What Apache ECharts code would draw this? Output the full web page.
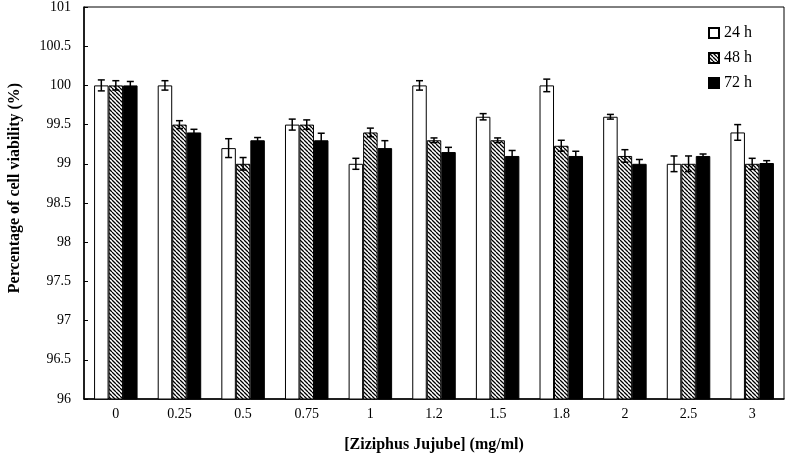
<!DOCTYPE html>
<html>
<head>
<meta charset="utf-8">
<script src="https://cdn.jsdelivr.net/npm/echarts@6/dist/echarts.min.js"></script>
<style>
  html, body { margin: 0; background: #fff; }
  #chart { width: 786px; height: 458px; }
</style>
</head>
<body>
<div id="chart"></div>
<script>
var categories = ['0', '0.25', '0.5', '0.75', '1', '1.2', '1.5', '1.8', '2', '2.5', '3']
var h24 = [100, 100, 99.2, 99.5, 99.0, 100, 99.6, 100, 99.6, 99.0, 99.4]
var h48 = [100, 99.5, 99.0, 99.5, 99.4, 99.3, 99.3, 99.23, 99.1, 99.0, 99.0]
var h72 = [100, 99.4, 99.3, 99.3, 99.2, 99.15, 99.1, 99.1, 99.0, 99.1, 99.01]
var err24 = [0.07, 0.06, 0.12, 0.07, 0.07, 0.06, 0.04, 0.08, 0.03, 0.1, 0.1]
var err48 = [0.06, 0.05, 0.08, 0.06, 0.055, 0.03, 0.03, 0.07, 0.08, 0.1, 0.07]
var err72 = [0.05, 0.04, 0.035, 0.09, 0.095, 0.06, 0.07, 0.06, 0.055, 0.025, 0.03]
var seriesNames = ['24 h', '48 h', '72 h']

var font = 'Liberation Serif'
var barW = 14.5

// diagonal hatch for the 48 h bars
function hatch () {
  var s = 4
  var c = document.createElement('canvas')
  c.width = s
  c.height = s
  var ctx = c.getContext('2d')
  ctx.fillStyle = '#fff'
  ctx.fillRect(0, 0, s, s)
  ctx.strokeStyle = '#000'
  ctx.lineWidth = 1.3
  ctx.beginPath()
  for (var k = -1; k <= 1; k++) {
    ctx.moveTo(k * s, 0)
    ctx.lineTo(k * s + s, s)
  }
  ctx.stroke()
  return { image: c, repeat: 'repeat' }
}

function errData (vals, errs) {
  return vals.map(function (v, i) { return [i, v, errs[i]] })
}

function errRender (offset) {
  return function (params, api) {
    var i = api.value(0)
    var v = api.value(1)
    var e = api.value(2)
    var hi = api.coord([i, v + e])
    var lo = api.coord([i, v - e])
    var x = hi[0] + offset
    var cap = 3.5
    var st = { stroke: '#000', lineWidth: 1.5 }
    return {
      type: 'group',
      children: [
        { type: 'line', shape: { x1: x, y1: hi[1], x2: x, y2: lo[1] }, style: st },
        { type: 'line', shape: { x1: x - cap, y1: hi[1], x2: x + cap, y2: hi[1] }, style: st },
        { type: 'line', shape: { x1: x - cap, y1: lo[1], x2: x + cap, y2: lo[1] }, style: st }
      ]
    }
  }
}

var chart = echarts.init(document.getElementById('chart'))

var option = {
  animation: false,
  backgroundColor: '#fff',
  textStyle: { fontFamily: font, color: '#000' },
  grid: {
    left: 84, right: 2, top: 5, bottom: 59,
    show: true, borderColor: '#000', borderWidth: 1
  },
  legend: {
    data: seriesNames,
    orient: 'vertical',
    left: 703,
    top: 20,
    icon: 'rect',
    itemWidth: 10,
    itemHeight: 10,
    itemGap: 9,
    textStyle: { fontFamily: font, fontSize: 16, color: '#000' }
  },
  graphic: [{
    type: 'text',
    x: 15,
    y: 188,
    rotation: Math.PI / 2,
    style: {
      text: 'Percentage of cell viability (%)',
      font: 'bold 16px "Liberation Serif"',
      fill: '#000',
      align: 'center',
      verticalAlign: 'middle'
    }
  }],
  xAxis: {
    type: 'category',
    data: categories,
    name: '[Ziziphus Jujube] (mg/ml)',
    nameLocation: 'middle',
    nameGap: 38,
    nameTextStyle: { fontFamily: font, fontSize: 16, fontWeight: 'bold', color: '#000' },
    axisLine: { lineStyle: { color: '#000', width: 1.5 } },
    axisTick: { show: false },
    axisLabel: { fontFamily: font, fontSize: 14, color: '#000', margin: 8 }
  },
  yAxis: {
    type: 'value',
    min: 96,
    max: 101,
    interval: 0.5,
    axisLine: { show: true, lineStyle: { color: '#000', width: 1.5 } },
    axisTick: { show: true, inside: true, length: 4, lineStyle: { color: '#000', width: 1 } },
    splitLine: { show: false },
    axisLabel: { fontFamily: font, fontSize: 14, color: '#000', margin: 13 }
  },
  series: [
    {
      name: '24 h', type: 'bar', data: h24, barWidth: barW, barGap: 0,
      itemStyle: { color: '#fff', borderColor: '#000', borderWidth: 1 }
    },
    {
      name: '48 h', type: 'bar', data: h48, barWidth: barW, barGap: 0,
      itemStyle: { color: hatch(), borderColor: '#000', borderWidth: 1 }
    },
    {
      name: '72 h', type: 'bar', data: h72, barWidth: barW, barGap: 0,
      itemStyle: { color: '#000', borderColor: '#000', borderWidth: 1 }
    },
    { type: 'custom', data: errData(h24, err24), renderItem: errRender(-barW), z: 5 },
    { type: 'custom', data: errData(h48, err48), renderItem: errRender(0), z: 5 },
    { type: 'custom', data: errData(h72, err72), renderItem: errRender(barW), z: 5 }
  ]
}

chart.setOption(option)
</script>
</body>
</html>
